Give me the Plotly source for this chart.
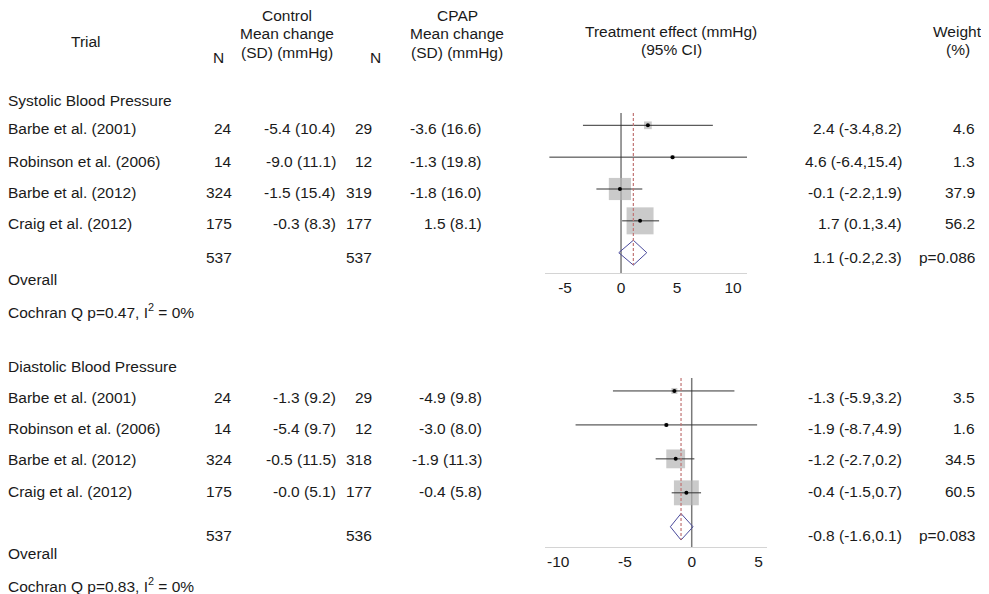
import plotly.graph_objects as go

# ---------------- data ----------------
trials = ["Barbe et al. (2001)", "Robinson et al. (2006)", "Barbe et al. (2012)", "Craig et al. (2012)"]

sbp_n_ctrl = [24, 14, 324, 175]
sbp_ctrl_mean = [-5.4, -9.0, -1.5, -0.3]
sbp_ctrl_sd = [10.4, 11.1, 15.4, 8.3]
sbp_n_cpap = [29, 12, 319, 177]
sbp_cpap_mean = [-3.6, -1.3, -1.8, 1.5]
sbp_cpap_sd = [16.6, 19.8, 16.0, 8.1]
sbp_eff = [2.4, 4.6, -0.1, 1.7]
sbp_lo = [-3.4, -6.4, -2.2, 0.1]
sbp_hi = [8.2, 15.4, 1.9, 3.4]
sbp_weight = [4.6, 1.3, 37.9, 56.2]
sbp_total_n = [537, 537]
sbp_pooled = [1.1, -0.2, 2.3]
sbp_p = "p=0.086"
sbp_cochran = "Cochran Q p=0.47, I<sup>2</sup> = 0%"

dbp_n_ctrl = [24, 14, 324, 175]
dbp_ctrl_mean = [-1.3, -5.4, -0.5, -0.0]
dbp_ctrl_sd = [9.2, 9.7, 11.5, 5.1]
dbp_n_cpap = [29, 12, 318, 177]
dbp_cpap_mean = [-4.9, -3.0, -1.9, -0.4]
dbp_cpap_sd = [9.8, 8.0, 11.3, 5.8]
dbp_eff = [-1.3, -1.9, -1.2, -0.4]
dbp_lo = [-5.9, -8.7, -2.7, -1.5]
dbp_hi = [3.2, 4.9, 0.2, 0.7]
dbp_weight = [3.5, 1.6, 34.5, 60.5]
dbp_total_n = [537, 536]
dbp_pooled = [-0.8, -1.6, 0.1]
dbp_p = "p=0.083"
dbp_cochran = "Cochran Q p=0.83, I<sup>2</sup> = 0%"

sbp_ticks = [-5, 0, 5, 10]
dbp_ticks = [-10, -5, 0, 5]

# ---------------- layout constants ----------------
# the page body adds an 8px offset; the figure is sized so that it ends at the window edge
OFF = 8
W, H = 989 - OFF, 594 - OFF
FONT = "Liberation Sans, Arial, sans-serif"
FS = 15.5
TXT = "#1a1a1a"

def px(x):
    return (x - OFF) / W

def py(y):
    return 1 - (y - OFF) / H

fig = go.Figure()
ann = []

def text(x, y, s, anchor="left"):
    ann.append(dict(x=px(x), y=py(y), xref="paper", yref="paper", text=s,
                    showarrow=False, xanchor=anchor, yanchor="middle",
                    borderpad=0, borderwidth=0,
                    font=dict(family=FONT, size=FS, color=TXT)))

# headers
text(86, 42, "Trial", "center")
text(218, 57, "N", "center")
for yy, s in zip([16, 34, 52], ["Control", "Mean change", "(SD) (mmHg)"]):
    text(287, yy, s, "center")
text(375, 57, "N", "center")
for yy, s in zip([16, 34, 52], ["CPAP", "Mean change", "(SD) (mmHg)"]):
    text(457, yy, s, "center")
text(671, 31, "Treatment effect (mmHg)", "center")
text(671, 49, "(95% CI)", "center")
text(957, 31, "Weight", "center")
text(958, 49, "(%)", "center")

COL_TRIAL, COL_N1, COL_C, COL_N2, COL_P, COL_E, COL_W = 8, 232, 336, 372, 482, 902, 975

def table(title_y, row_ys, tot_y, overall_y, coch_y, title, n1, cm, cs, n2, pm, ps,
          eff, lo, hi, wt, totn, pooled, pval, coch):
    text(COL_TRIAL, title_y, title)
    for i, yy in enumerate(row_ys):
        text(COL_TRIAL, yy, trials[i])
        text(COL_N1, yy, str(n1[i]), "right")
        text(COL_C, yy, f"{cm[i]:.1f} ({cs[i]:.1f})", "right")
        text(COL_N2, yy, str(n2[i]), "right")
        text(COL_P, yy, f"{pm[i]:.1f} ({ps[i]:.1f})", "right")
        text(COL_E, yy, f"{eff[i]:.1f} ({lo[i]:.1f},{hi[i]:.1f})", "right")
        text(COL_W, yy, f"{wt[i]:.1f}", "right")
    text(COL_N1, tot_y, str(totn[0]), "right")
    text(COL_N2, tot_y, str(totn[1]), "right")
    text(COL_E, tot_y, f"{pooled[0]:.1f} ({pooled[1]:.1f},{pooled[2]:.1f})", "right")
    text(COL_W, tot_y, pval, "right")
    text(COL_TRIAL, overall_y, "Overall")
    text(COL_TRIAL, coch_y, coch)

table(100, [129, 161, 192, 224], 257, 279, 311, "Systolic Blood Pressure",
      sbp_n_ctrl, sbp_ctrl_mean, sbp_ctrl_sd, sbp_n_cpap, sbp_cpap_mean, sbp_cpap_sd,
      sbp_eff, sbp_lo, sbp_hi, sbp_weight, sbp_total_n, sbp_pooled, sbp_p, sbp_cochran)
table(366, [397, 428, 459, 491], 535, 553, 585, "Diastolic Blood Pressure",
      dbp_n_ctrl, dbp_ctrl_mean, dbp_ctrl_sd, dbp_n_cpap, dbp_cpap_mean, dbp_cpap_sd,
      dbp_eff, dbp_lo, dbp_hi, dbp_weight, dbp_total_n, dbp_pooled, dbp_p, dbp_cochran)

# ---------------- forest panels ----------------
BOX = "#b4b4b4"
CI = "#333333"
DIAM = "#4a4a9c"
RED = "#c07474"
ZERO = "#7a7a7a"
DH = 0.39  # diamond half-height (rows)

shapes = []

def panel(xa, ya, eff, lo, hi, wt, pooled, kbox, ytop):
    rows = list(range(1, len(eff) + 1))
    prow = len(eff) + 1
    fig.add_trace(go.Scatter(x=eff, y=rows, mode="markers", xaxis=xa, yaxis=ya,
                             marker=dict(symbol="square", color=BOX,
                                         size=[kbox * w ** 0.5 for w in wt],
                                         line=dict(width=0)),
                             hoverinfo="skip"))
    cx, cy = [], []
    for r, a, b in zip(rows, lo, hi):
        cx += [a, b, None]
        cy += [r, r, None]
    fig.add_trace(go.Scatter(x=cx, y=cy, mode="lines", xaxis=xa, yaxis=ya,
                             line=dict(color=CI, width=1), hoverinfo="skip"))
    fig.add_trace(go.Scatter(x=eff, y=rows, mode="markers", xaxis=xa, yaxis=ya,
                             marker=dict(symbol="circle", color="black", size=4),
                             hoverinfo="skip"))
    est, plo, phi = pooled
    fig.add_trace(go.Scatter(x=[plo, est, phi, est, plo],
                             y=[prow, prow - DH, prow, prow + DH, prow],
                             mode="lines", xaxis=xa, yaxis=ya,
                             line=dict(color=DIAM, width=1), hoverinfo="skip"))
    shapes.append(dict(type="line", xref=xa, yref=ya + " domain", x0=0, x1=0, y0=0, y1=1,
                       line=dict(color=ZERO, width=1.5), layer="below"))
    shapes.append(dict(type="line", xref=xa, yref=ya, x0=est, x1=est, y0=ytop, y1=prow + DH,
                       line=dict(color=RED, width=1.2, dash="3px,2px"), layer="above"))

# systolic: rows at 125.3 + 31.85*(r-1), domain 113..273 px
s_top, s_bot = 1 - 12.3 / 31.85, 5 + 20.3 / 31.85
panel("x", "y", sbp_eff, sbp_lo, sbp_hi, sbp_weight, sbp_pooled, 3.6, s_top)
# diastolic: rows at 391 + 34.1*(r-1), domain 378..547 px
d_top, d_bot = 1 - 13 / 34.1, 5 + 20.3 / 34.1
panel("x2", "y2", dbp_eff, dbp_lo, dbp_hi, dbp_weight, dbp_pooled, 3.2, d_top)

axis_common = dict(showgrid=False, zeroline=False, showline=True, linecolor="#d4d4d4",
                   linewidth=1, ticks="", tickfont=dict(family=FONT, size=FS, color=TXT),
                   fixedrange=True)
fig.update_layout(
    width=W, height=H,
    margin=dict(l=0, r=0, t=0, b=0),
    paper_bgcolor="white", plot_bgcolor="white",
    showlegend=False,
    xaxis=dict(domain=[px(545), px(747)], range=[-6.79, 11.25], tickvals=sbp_ticks,
               ticktext=[str(v) for v in sbp_ticks], anchor="y", **axis_common),
    yaxis=dict(domain=[py(273), py(113)], range=[s_bot, s_top], visible=False, anchor="x"),
    xaxis2=dict(domain=[px(545), px(767)], range=[-10.99, 5.64], tickvals=dbp_ticks,
                ticktext=[str(v) for v in dbp_ticks], anchor="y2", **axis_common),
    yaxis2=dict(domain=[py(547), py(378)], range=[d_bot, d_top], visible=False, anchor="x2"),
    annotations=ann,
    shapes=shapes,
)

fig.write_html("out.html")
